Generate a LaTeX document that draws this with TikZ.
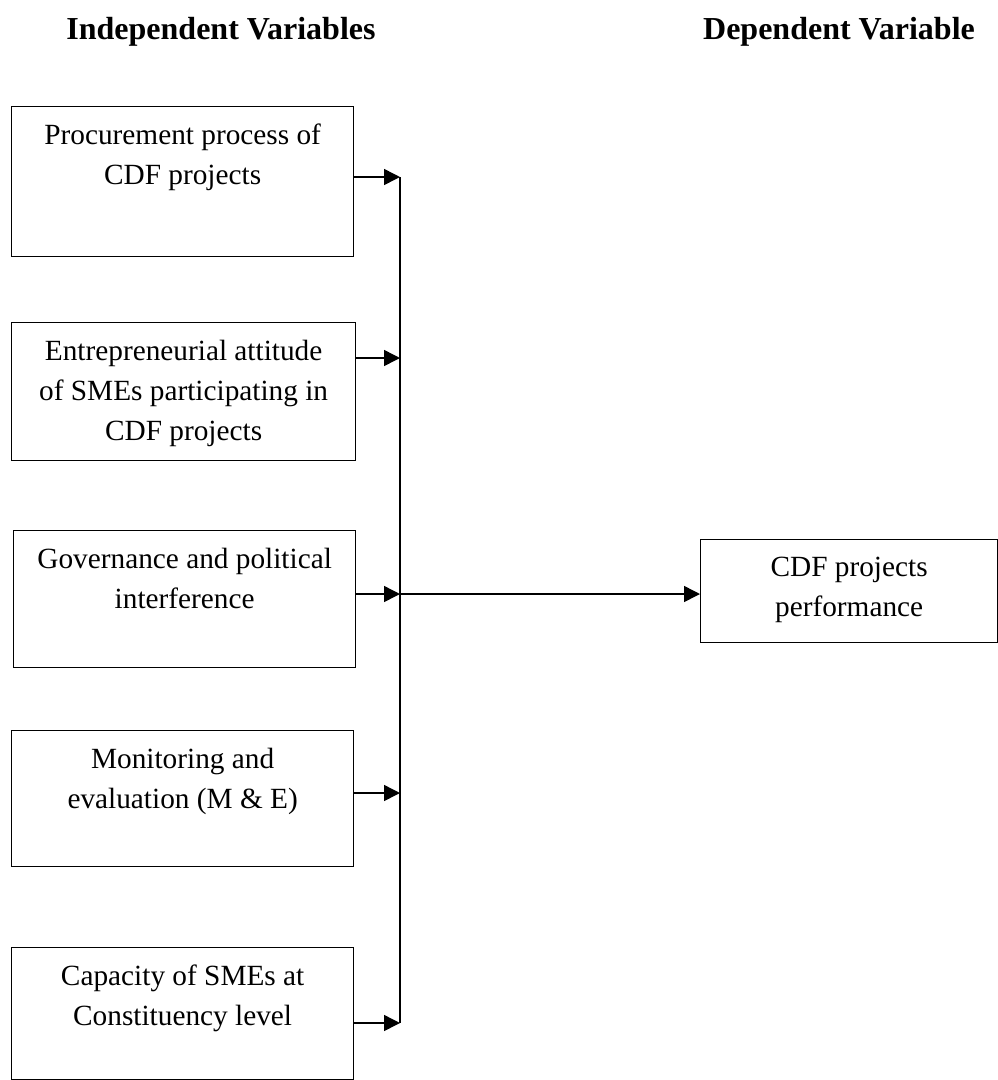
\documentclass[tikz,border=0pt]{standalone}
\usepackage{fontspec}
\setmainfont{Liberation Serif}
\usetikzlibrary{arrows.meta,calc}
\tikzset{
  varbox/.style={draw, line width=1.3pt, rectangle, inner sep=0pt, anchor=north west},
  boxtext/.style={align=center, anchor=north, inner sep=0pt, font=\fontsize{29.3}{40}\selectfont},
  header/.style={anchor=base, inner sep=0pt, font=\fontsize{32}{38}\selectfont\bfseries},
  conn/.style={line width=1.5pt, -{Triangle[length=16pt,width=16pt]}},
  bus/.style={line width=1.5pt}
}
\begin{document}
\begin{tikzpicture}[x=1pt,y=-1pt]
\useasboundingbox (0,0) rectangle (998,1080);
\fill[white] (0,0) rectangle (998,1080);

% headers
\node[header] (hIndep) at (221,39) {Independent Variables};
\node[header] (hDep) at (839,39) {Dependent Variable};

% independent variable boxes
\node[varbox, minimum width=342pt, minimum height=150pt] (b1) at (11,106) {};
\node[varbox, minimum width=344pt, minimum height=138pt] (b2) at (11,322) {};
\node[varbox, minimum width=342pt, minimum height=137pt] (b3) at (13,530) {};
\node[varbox, minimum width=342pt, minimum height=136pt] (b4) at (11,730) {};
\node[varbox, minimum width=342pt, minimum height=132pt] (b5) at (11,947) {};

\node[boxtext] (t1) at ($(b1.north)+(0,18)$) {Procurement process of\\CDF projects};
\node[boxtext] (t2) at ($(b2.north)+(0,18)$) {Entrepreneurial attitude\\of SMEs participating in\\CDF projects};
\node[boxtext] (t3) at ($(b3.north)+(0,18)$) {Governance and political\\interference};
\node[boxtext] (t4) at ($(b4.north)+(0,18)$) {Monitoring and\\evaluation (M \& E)};
\node[boxtext] (t5) at ($(b5.north)+(0,18)$) {Capacity of SMEs at\\Constituency level};

% dependent variable box
\node[varbox, minimum width=297pt, minimum height=103pt] (out) at (700,539) {};
\node[boxtext] (tout) at ($(out.north)+(0,18)$) {CDF projects\\performance};

% junction points on the collecting line
\coordinate (j1) at (400,177);
\coordinate (j2) at (400,358);
\coordinate (j3) at (400,594);
\coordinate (j4) at (400,793);
\coordinate (j5) at (400,1023);

\draw[bus] (j1) -- (j5);
\draw[conn] (j1 -| b1.east) -- (j1);
\draw[conn] (j2 -| b2.east) -- (j2);
\draw[conn] (j3 -| b3.east) -- (j3);
\draw[conn] (j4 -| b4.east) -- (j4);
\draw[conn] (j5 -| b5.east) -- (j5);
\draw[conn] (j3) -- (j3 -| out.west);
\end{tikzpicture}
\end{document}
